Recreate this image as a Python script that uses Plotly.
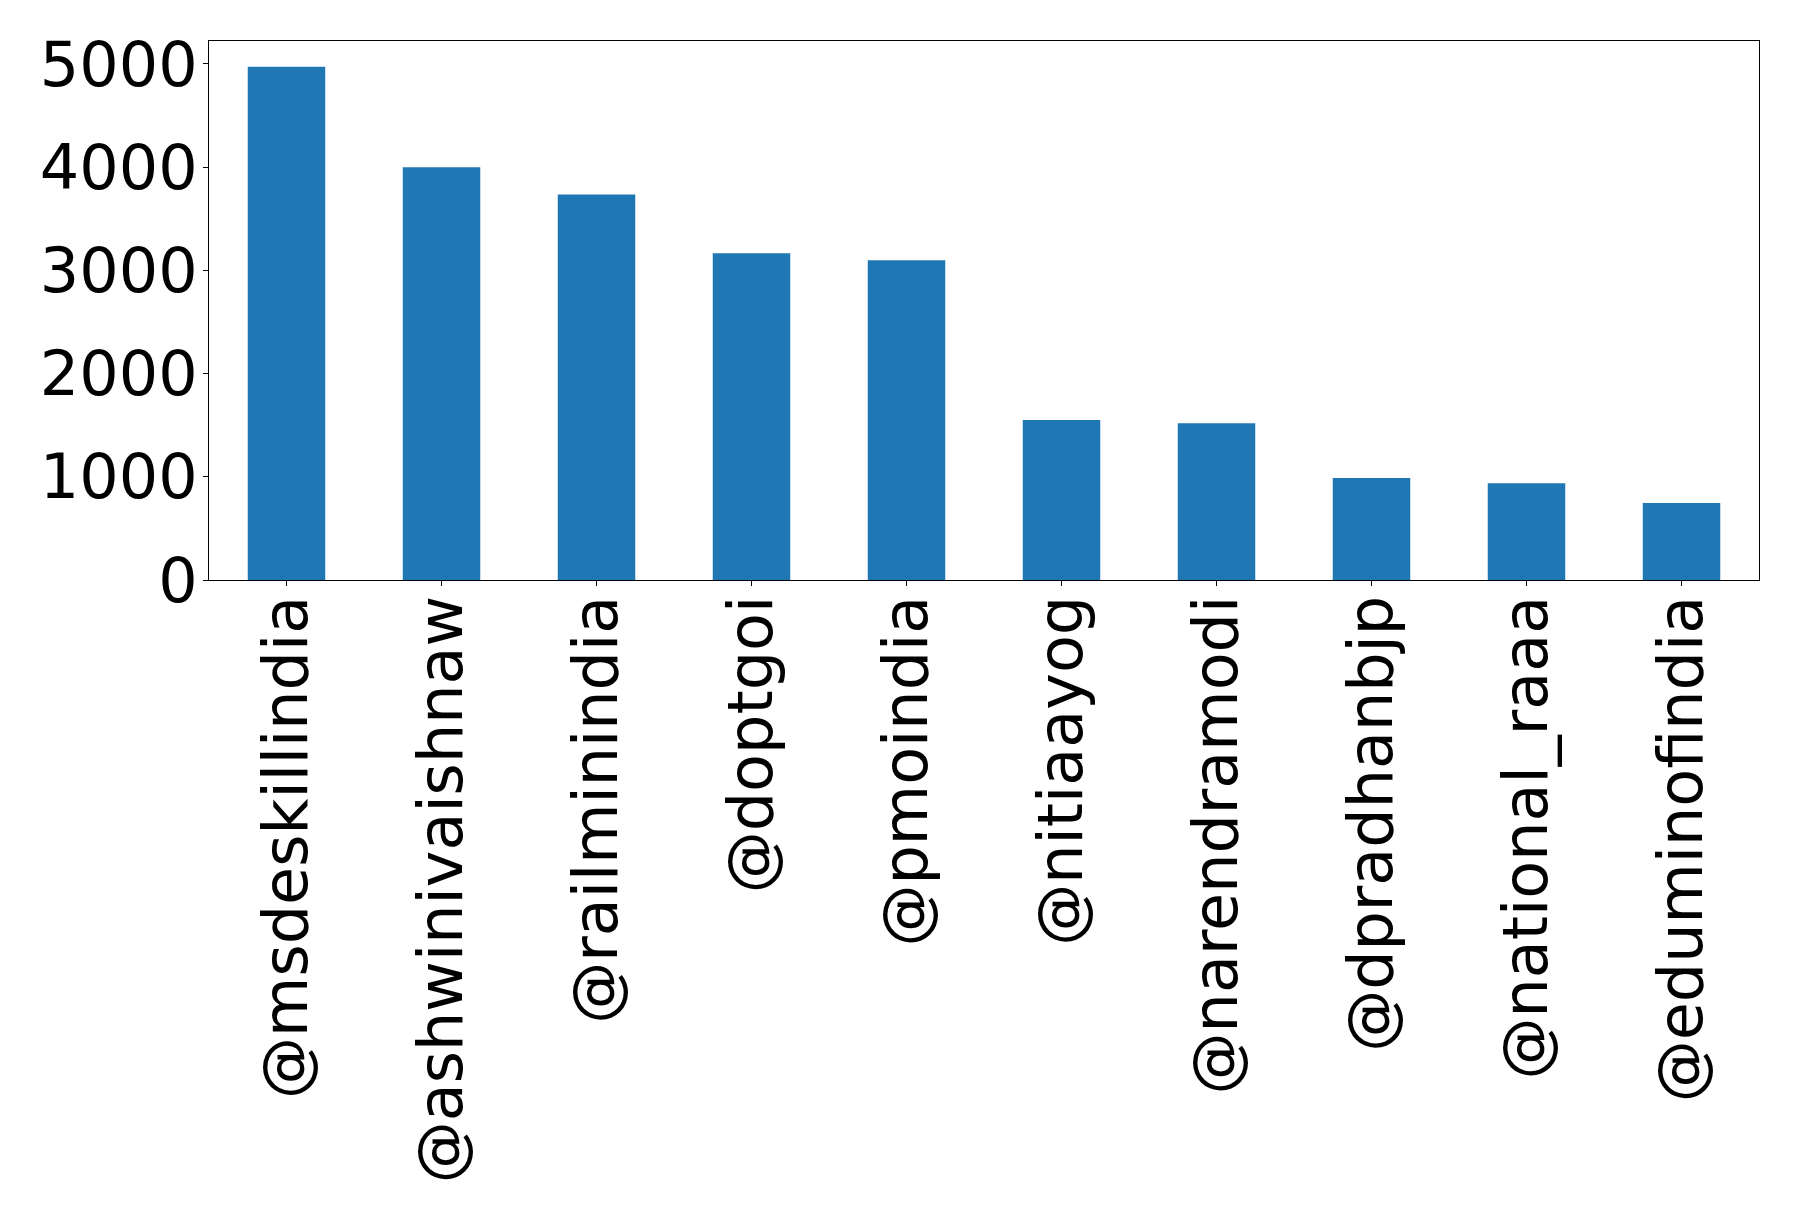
import plotly.graph_objects as go

accounts = ["@msdeskillindia", "@ashwinivaishnaw", "@railminindia", "@doptgoi",
            "@pmoindia", "@nitiaayog", "@narendramodi", "@dpradhanbjp",
            "@national_raaa", "@eduminofindia"]
counts = [4973, 3998, 3734, 3166, 3098, 1549, 1519, 987, 937, 746]
y_ticks = [0, 1000, 2000, 3000, 4000, 5000]

fig = go.Figure(go.Bar(x=accounts, y=counts, width=0.5, marker_color="#1f77b4",
                       marker_line_width=0))

font = dict(family="DejaVu Sans", size=62, color="black")
fig.update_layout(
    width=1798, height=1221,
    margin=dict(l=201, r=47, t=33, b=649),
    plot_bgcolor="white", paper_bgcolor="white",
    showlegend=False, font=font,
)
fig.update_xaxes(range=[-0.5, 9.5], tickangle=-90, showline=True, linecolor="black",
                 linewidth=1, mirror=True, ticks="outside", ticklen=5, tickwidth=1,
                 tickcolor="black", showgrid=False, tickfont=font,
                 ticklabelstandoff=-15)
fig.update_yaxes(range=[0, 5222], tickvals=y_ticks, showline=True, linecolor="black",
                 linewidth=1, mirror=True, ticks="outside", ticklen=5, tickwidth=1,
                 tickcolor="black", showgrid=False, zeroline=False, tickfont=font,
                 ticklabelstandoff=-7)
fig.write_html("out.html")
